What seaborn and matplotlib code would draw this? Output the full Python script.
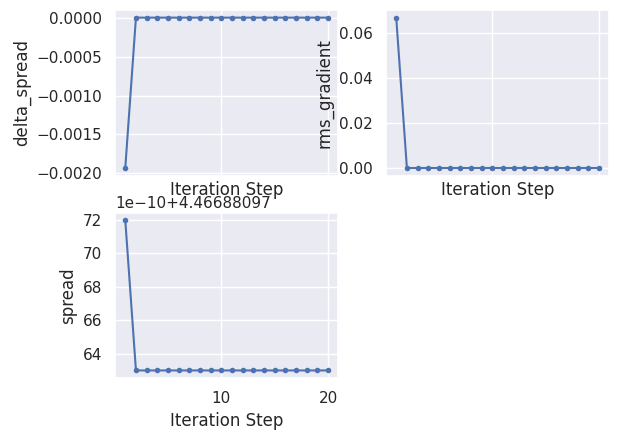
import matplotlib

matplotlib.use("Agg")

import matplotlib.pyplot as plt
import numpy as np
import pandas as pd
import seaborn as sns

# values
steps = list(range(1, 21))
delta_spread = [-0.00193] + [0.0] * 19
rms_gradient = [0.067] + [0.0] * 19
spread = [4.4668809772] + [4.4668809763] * 19

df = pd.DataFrame(
    {
        "Iteration Step": steps,
        "delta_spread": delta_spread,
        "rms_gradient": rms_gradient,
        "spread": spread,
    }
)


def main() -> None:
    sns.set_theme()
    fig, axes = plt.subplots(2, 2, sharex=True, figsize=(6.19, 4.40), dpi=100)
    fig.subplots_adjust(left=0.186, right=0.984, top=0.977, bottom=0.141, wspace=0.215, hspace=0.224)

    panels = [(axes[0, 0], "delta_spread"), (axes[0, 1], "rms_gradient"), (axes[1, 0], "spread")]
    for ax, col in panels:
        sns.lineplot(
            data=df,
            x="Iteration Step",
            y=col,
            marker="o",
            markersize=4,
            markeredgewidth=0,
            linewidth=1.5,
            ax=ax,
        )
        ax.set_xlabel("Iteration Step")
        ax.xaxis.label.set_visible(True)
        ax.set_ylabel(col)
    fig.delaxes(axes[1, 1])

    fig.savefig("out.png", dpi=100)
    plt.close(fig)


if __name__ == "__main__":
    main()
